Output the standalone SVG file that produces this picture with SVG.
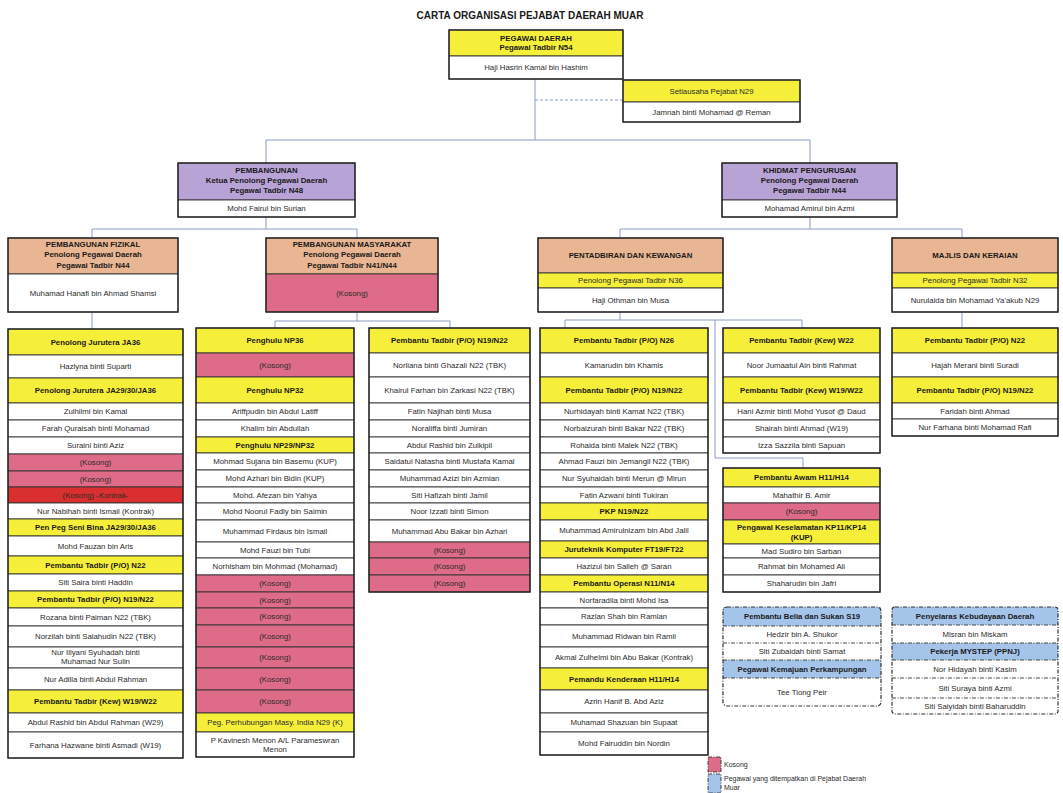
<svg xmlns="http://www.w3.org/2000/svg" width="1063" height="793" viewBox="0 0 1063 793">
<style>
.c{stroke:#333;stroke-width:0.9}
.o{fill:none;stroke:#222;stroke-width:1.3}
.y{fill:#f6ef3a}.w{fill:#fff}.k{fill:#de6b88}.r{fill:#d9302f}.p{fill:#b8a3d6}.e{fill:#e9b693}.bl{fill:#a5c4ea}
.d{stroke:#333;stroke-width:0.9;stroke-dasharray:4 1.5 1 1.5}
.od{fill:none;stroke:#333;stroke-width:1.2;stroke-dasharray:4 1.5 1 1.5}
.t{font-family:"Liberation Sans",Arial,Helvetica,sans-serif;font-size:7.8px;fill:#2b2b2b;text-anchor:middle}
.tb{font-weight:bold;fill:#1a1a1a}
.ti{font-family:"Liberation Sans",Arial,Helvetica,sans-serif;font-size:10px;font-weight:bold;fill:#1a1a1a;text-anchor:middle}
.lg{font-family:"Liberation Sans",Arial,Helvetica,sans-serif;font-size:7px;fill:#2b2b2b}
.cn{fill:none;stroke:#8a9cc4;stroke-width:1}
</style>
<rect width="1063" height="793" fill="#fff"/>
<text class="ti" x="530" y="19">CARTA ORGANISASI PEJABAT DAERAH MUAR</text>

<g id="connectors">
<path class="cn" d="M535,79 V140"/>
<path class="cn" d="M535,100 H623" stroke-dasharray="3 2"/>
<path class="cn" d="M266,163 V140 H810 V163"/>
<path class="cn" d="M266,217 V229"/>
<path class="cn" d="M92,238 V229 H357 V238"/>
<path class="cn" d="M810,217 V229"/>
<path class="cn" d="M620,238 V229 H962 V238"/>
<path class="cn" d="M92,312 V329"/>
<path class="cn" d="M357,312 V321"/>
<path class="cn" d="M275,328 V321 H450 V328"/>
<path class="cn" d="M620,312 V320"/>
<path class="cn" d="M565,328 V320 H802 V328"/>
<path class="cn" d="M715,320 V458 H803 V468"/>
<path class="cn" d="M962,312 V328"/>
</g>

<g id="pegawai-daerah">
<rect class="c y" x="449" y="30" width="174" height="26"/>
<rect class="c w" x="449" y="56" width="174" height="23"/>
<rect class="o" x="449" y="30" width="174" height="49"/>
<text class="t tb" x="536" y="40.5">PEGAWAI DAERAH</text>
<text class="t tb" x="536" y="50">Pegawai Tadbir N54</text>
<text class="t" x="536" y="70">Haji Hasrin Kamal bin Hashim</text>
</g>

<g id="setiausaha">
<rect class="c y" x="623" y="80" width="177" height="22"/>
<rect class="c w" x="623" y="102" width="177" height="20"/>
<rect class="o" x="623" y="80" width="177" height="42"/>
<text class="t" x="711.5" y="93.6">Setiausaha Pejabat N29</text>
<text class="t" x="711.5" y="114.6">Jamnah binti Mohamad @ Reman</text>
</g>

<g id="pembangunan">
<rect class="c p" x="178" y="163" width="177" height="37"/>
<rect class="c w" x="178" y="200" width="177" height="17"/>
<rect class="o" x="178" y="163" width="177" height="54"/>
<text class="t tb" x="266.5" y="172.5">PEMBANGUNAN</text>
<text class="t tb" x="266.5" y="182.5">Ketua Penolong Pegawai Daerah</text>
<text class="t tb" x="266.5" y="192.5">Pegawai Tadbir N48</text>
<text class="t" x="266.5" y="211">Mohd  Fairul bin Surian</text>
</g>

<g id="khidmat-pengurusan">
<rect class="c p" x="722" y="163" width="175" height="37"/>
<rect class="c w" x="722" y="200" width="175" height="17"/>
<rect class="o" x="722" y="163" width="175" height="54"/>
<text class="t tb" x="809.5" y="172.5">KHIDMAT PENGURUSAN</text>
<text class="t tb" x="809.5" y="182.5">Penolong Pegawai Daerah</text>
<text class="t tb" x="809.5" y="192.5">Pegawai Tadbir N44</text>
<text class="t" x="809.5" y="211">Mohamad Amirul bin Azmi</text>
</g>

<g id="pembangunan-fizikal">
<rect class="c e" x="8" y="238" width="170" height="36"/>
<rect class="c w" x="8" y="274" width="170" height="38"/>
<rect class="o" x="8" y="238" width="170" height="74"/>
<text class="t tb" x="93" y="246.5">PEMBANGUNAN FIZIKAL</text>
<text class="t tb" x="93" y="257">Penolong Pegawai Daerah</text>
<text class="t tb" x="93" y="268">Pegawai Tadbir N44</text>
<text class="t" x="93" y="295.6">Muhamad Hanafi bin Ahmad Shamsi</text>
</g>

<g id="pembangunan-masyarakat">
<rect class="c e" x="266" y="238" width="172" height="36"/>
<rect class="c k" x="266" y="274" width="172" height="38"/>
<rect class="o" x="266" y="238" width="172" height="74"/>
<text class="t tb" x="352" y="246.5">PEMBANGUNAN MASYARAKAT</text>
<text class="t tb" x="352" y="257">Penolong Pegawai Daerah</text>
<text class="t tb" x="352" y="268">Pegawai Tadbir N41/N44</text>
<text class="t" x="352" y="295.6">(Kosong)</text>
</g>

<g id="pentadbiran-kewangan">
<rect class="c e" x="538" y="238" width="185" height="35"/>
<rect class="c y" x="538" y="273" width="185" height="15"/>
<rect class="c w" x="538" y="288" width="185" height="24"/>
<rect class="o" x="538" y="238" width="185" height="74"/>
<text class="t tb" x="630.5" y="258">PENTADBIRAN DAN KEWANGAN</text>
<text class="t" x="630.5" y="283">Penolong Pegawai Tadbir N36</text>
<text class="t" x="630.5" y="302.6">Haji Othman bin Musa</text>
</g>

<g id="majlis-keraian">
<rect class="c e" x="892" y="238" width="166" height="35"/>
<rect class="c y" x="892" y="273" width="166" height="15"/>
<rect class="c w" x="892" y="288" width="166" height="24"/>
<rect class="o" x="892" y="238" width="166" height="74"/>
<text class="t tb" x="975" y="258">MAJLIS DAN KERAIAN</text>
<text class="t" x="975" y="283">Penolong Pegawai Tadbir N32</text>
<text class="t" x="975" y="302.6">Nurulaida bin Mohamad Ya'akub N29</text>
</g>

<g id="col-fizikal">
<rect class="c y" x="8" y="329" width="175" height="26"/>
<rect class="c w" x="8" y="355" width="175" height="23"/>
<rect class="c y" x="8" y="378" width="175" height="25"/>
<rect class="c w" x="8" y="403" width="175" height="17"/>
<rect class="c w" x="8" y="420" width="175" height="17"/>
<rect class="c w" x="8" y="437" width="175" height="17"/>
<rect class="c k" x="8" y="454" width="175" height="17"/>
<rect class="c k" x="8" y="471" width="175" height="16"/>
<rect class="c r" x="8" y="487" width="175" height="16"/>
<rect class="c w" x="8" y="503" width="175" height="16"/>
<rect class="c y" x="8" y="519" width="175" height="17"/>
<rect class="c w" x="8" y="536" width="175" height="20"/>
<rect class="c y" x="8" y="556" width="175" height="18"/>
<rect class="c w" x="8" y="574" width="175" height="17"/>
<rect class="c y" x="8" y="591" width="175" height="17"/>
<rect class="c w" x="8" y="608" width="175" height="18"/>
<rect class="c w" x="8" y="626" width="175" height="21"/>
<rect class="c w" x="8" y="647" width="175" height="21"/>
<rect class="c w" x="8" y="668" width="175" height="22"/>
<rect class="c y" x="8" y="690" width="175" height="23"/>
<rect class="c w" x="8" y="713" width="175" height="19"/>
<rect class="c w" x="8" y="732" width="175" height="26"/>
<rect class="o" x="8" y="329" width="175" height="429"/>
<text class="t tb" x="95.5" y="344.6">Penolong Jurutera JA36</text>
<text class="t" x="95.5" y="369.1">Hazlyna binti Suparti</text>
<text class="t tb" x="95.5" y="393.1">Penolong Jurutera JA29/30/JA36</text>
<text class="t" x="95.5" y="414.1">Zulhilmi bin Kamal</text>
<text class="t" x="95.5" y="431.1">Farah Quraisah binti Mohamad</text>
<text class="t" x="95.5" y="448.1">Suraini binti Aziz</text>
<text class="t" x="95.5" y="465.1">(Kosong)</text>
<text class="t" x="95.5" y="481.6">(Kosong)</text>
<text class="t" x="95.5" y="497.6">(Kosong) -Kontrak-</text>
<text class="t" x="95.5" y="513.6">Nur Nabihah binti Ismail (Kontrak)</text>
<text class="t tb" x="95.5" y="530.1">Pen Peg Seni Bina JA29/30/JA36</text>
<text class="t" x="95.5" y="548.6">Mohd Fauzan  bin Aris</text>
<text class="t tb" x="95.5" y="567.6">Pembantu Tadbir (P/O) N22</text>
<text class="t" x="95.5" y="585.1">Siti Saira binti Haddin</text>
<text class="t tb" x="95.5" y="602.1">Pembantu  Tadbir (P/O) N19/N22</text>
<text class="t" x="95.5" y="619.6">Rozana binti Paiman N22 (TBK)</text>
<text class="t" x="95.5" y="639.1">Norzilah binti Salahudin N22 (TBK)</text>
<text class="t" x="95.5" y="654.6">Nur Illyani Syuhadah binti</text>
<text class="t" x="95.5" y="663.6">Muhamad  Nur Sulin</text>
<text class="t" x="95.5" y="681.6">Nur Adilla binti Abdul Rahman</text>
<text class="t tb" x="95.5" y="704.1">Pembantu Tadbir (Kew) W19/W22</text>
<text class="t" x="95.5" y="725.1">Abdul Rashid bin Abdul Rahman (W29)</text>
<text class="t" x="95.5" y="747.6">Farhana Hazwane binti Asmadi (W19)</text>
</g>

<g id="col-penghulu">
<rect class="c y" x="196" y="328" width="158" height="25"/>
<rect class="c k" x="196" y="353" width="158" height="24"/>
<rect class="c y" x="196" y="377" width="158" height="26"/>
<rect class="c w" x="196" y="403" width="158" height="17"/>
<rect class="c w" x="196" y="420" width="158" height="17"/>
<rect class="c y" x="196" y="437" width="158" height="16"/>
<rect class="c w" x="196" y="453" width="158" height="17"/>
<rect class="c w" x="196" y="470" width="158" height="17"/>
<rect class="c w" x="196" y="487" width="158" height="16"/>
<rect class="c w" x="196" y="503" width="158" height="17"/>
<rect class="c w" x="196" y="520" width="158" height="22"/>
<rect class="c w" x="196" y="542" width="158" height="16"/>
<rect class="c w" x="196" y="558" width="158" height="17"/>
<rect class="c k" x="196" y="575" width="158" height="17"/>
<rect class="c k" x="196" y="592" width="158" height="16"/>
<rect class="c k" x="196" y="608" width="158" height="17"/>
<rect class="c k" x="196" y="625" width="158" height="22"/>
<rect class="c k" x="196" y="647" width="158" height="21"/>
<rect class="c k" x="196" y="668" width="158" height="22"/>
<rect class="c k" x="196" y="690" width="158" height="23"/>
<rect class="c y" x="196" y="713" width="158" height="19"/>
<rect class="c w" x="196" y="732" width="158" height="25"/>
<rect class="o" x="196" y="328" width="158" height="429"/>
<text class="t tb" x="275" y="343.1">Penghulu NP36</text>
<text class="t" x="275" y="367.6">(Kosong)</text>
<text class="t tb" x="275" y="392.6">Penghulu NP32</text>
<text class="t" x="275" y="414.1">Ariffpudin bin Abdul Latiff</text>
<text class="t" x="275" y="431.1">Khalim bin Abdullah</text>
<text class="t tb" x="275" y="447.6">Penghulu NP29/NP32</text>
<text class="t" x="275" y="464.1">Mohmad Sujana bin Basemu (KUP)</text>
<text class="t" x="275" y="481.1">Mohd Azhari bin Bidin (KUP)</text>
<text class="t" x="275" y="497.6">Mohd. Afezan bin  Yahya</text>
<text class="t" x="275" y="514.1">Mohd Noorul Fadly bin  Saimin</text>
<text class="t" x="275" y="533.6">Muhammad Firdaus bin Ismail</text>
<text class="t" x="275" y="552.6">Mohd Fauzi bin Tubi</text>
<text class="t" x="275" y="569.1">Norhisham bin Mohmad (Mohamad)</text>
<text class="t" x="275" y="586.1">(Kosong)</text>
<text class="t" x="275" y="602.6">(Kosong)</text>
<text class="t" x="275" y="619.1">(Kosong)</text>
<text class="t" x="275" y="638.6">(Kosong)</text>
<text class="t" x="275" y="660.1">(Kosong)</text>
<text class="t" x="275" y="681.6">(Kosong)</text>
<text class="t" x="275" y="704.1">(Kosong)</text>
<text class="t" x="275" y="725.1">Peg. Perhubungan Masy. India N29 (K)</text>
<text class="t" x="275" y="742.6">P Kavinesh Menon A/L Parameswran</text>
<text class="t" x="275" y="751.6">Menon</text>
</g>

<g id="col-masyarakat-po">
<rect class="c y" x="369" y="328" width="161" height="25"/>
<rect class="c w" x="369" y="353" width="161" height="24"/>
<rect class="c w" x="369" y="377" width="161" height="26"/>
<rect class="c w" x="369" y="403" width="161" height="17"/>
<rect class="c w" x="369" y="420" width="161" height="17"/>
<rect class="c w" x="369" y="437" width="161" height="16"/>
<rect class="c w" x="369" y="453" width="161" height="17"/>
<rect class="c w" x="369" y="470" width="161" height="17"/>
<rect class="c w" x="369" y="487" width="161" height="16"/>
<rect class="c w" x="369" y="503" width="161" height="17"/>
<rect class="c w" x="369" y="520" width="161" height="22"/>
<rect class="c k" x="369" y="542" width="161" height="16"/>
<rect class="c k" x="369" y="558" width="161" height="17"/>
<rect class="c k" x="369" y="575" width="161" height="17"/>
<rect class="o" x="369" y="328" width="161" height="264"/>
<text class="t tb" x="449.5" y="343.1">Pembantu Tadbir (P/O) N19/N22</text>
<text class="t" x="449.5" y="367.6">Norliana binti Ghazali N22 (TBK)</text>
<text class="t" x="449.5" y="392.6">Khairul Farhan bin Zarkasi N22 (TBK)</text>
<text class="t" x="449.5" y="414.1">Fatin Najihah binti Musa</text>
<text class="t" x="449.5" y="431.1">Noraliffa binti Jumiran</text>
<text class="t" x="449.5" y="447.6">Abdul Rashid bin Zulkipli</text>
<text class="t" x="449.5" y="464.1">Saidatul Natasha binti Mustafa Kamal</text>
<text class="t" x="449.5" y="481.1">Muhammad Azizi bin Azmian</text>
<text class="t" x="449.5" y="497.6">Siti Hafizah binti Jamil</text>
<text class="t" x="449.5" y="514.1">Noor Izzati binti Simon</text>
<text class="t" x="449.5" y="533.6">Muhammad Abu Bakar bin  Azhari</text>
<text class="t" x="449.5" y="552.6">(Kosong)</text>
<text class="t" x="449.5" y="569.1">(Kosong)</text>
<text class="t" x="449.5" y="586.1">(Kosong)</text>
</g>

<g id="col-pentadbiran-po">
<rect class="c y" x="540" y="328" width="168" height="25"/>
<rect class="c w" x="540" y="353" width="168" height="24"/>
<rect class="c y" x="540" y="377" width="168" height="26"/>
<rect class="c w" x="540" y="403" width="168" height="17"/>
<rect class="c w" x="540" y="420" width="168" height="17"/>
<rect class="c w" x="540" y="437" width="168" height="16"/>
<rect class="c w" x="540" y="453" width="168" height="17"/>
<rect class="c w" x="540" y="470" width="168" height="17"/>
<rect class="c w" x="540" y="487" width="168" height="16"/>
<rect class="c y" x="540" y="503" width="168" height="17"/>
<rect class="c w" x="540" y="520" width="168" height="21"/>
<rect class="c y" x="540" y="541" width="168" height="17"/>
<rect class="c w" x="540" y="558" width="168" height="17"/>
<rect class="c y" x="540" y="575" width="168" height="17"/>
<rect class="c w" x="540" y="592" width="168" height="16"/>
<rect class="c w" x="540" y="608" width="168" height="17"/>
<rect class="c w" x="540" y="625" width="168" height="22"/>
<rect class="c w" x="540" y="647" width="168" height="21"/>
<rect class="c y" x="540" y="668" width="168" height="22"/>
<rect class="c w" x="540" y="690" width="168" height="23"/>
<rect class="c w" x="540" y="713" width="168" height="19"/>
<rect class="c w" x="540" y="732" width="168" height="23"/>
<rect class="o" x="540" y="328" width="168" height="427"/>
<text class="t tb" x="624" y="343.1">Pembantu Tadbir (P/O) N26</text>
<text class="t" x="624" y="367.6">Kamarudin bin Khamis</text>
<text class="t tb" x="624" y="392.6">Pembantu Tadbir (P/O) N19/N22</text>
<text class="t" x="624" y="414.1">Nurhidayah binti Kamat N22 (TBK)</text>
<text class="t" x="624" y="431.1">Norbaizurah binti Bakar N22 (TBK)</text>
<text class="t" x="624" y="447.6">Rohaida binti Malek N22 (TBK)</text>
<text class="t" x="624" y="464.1">Ahmad Fauzi bin Jemangil N22 (TBK)</text>
<text class="t" x="624" y="481.1">Nur Syuhaidah binti Merun @ Mirun</text>
<text class="t" x="624" y="497.6">Fatin Azwani binti Tukiran</text>
<text class="t tb" x="624" y="514.1">PKP N19/N22</text>
<text class="t" x="624" y="533.1">Muhammad Amirulnizam bin Abd Jalil</text>
<text class="t tb" x="624" y="552.1">Juruteknik Komputer FT19/FT22</text>
<text class="t" x="624" y="569.1">Hazizul bin Salleh @ Saran</text>
<text class="t tb" x="624" y="586.1">Pembantu Operasi N11/N14</text>
<text class="t" x="624" y="602.6">Norfaradila binti Mohd Isa</text>
<text class="t" x="624" y="619.1">Razlan Shah bin  Ramlan</text>
<text class="t" x="624" y="638.6">Muhammad Ridwan bin Ramli</text>
<text class="t" x="624" y="660.1">Akmal Zulhelmi bin Abu Bakar (Kontrak)</text>
<text class="t tb" x="624" y="681.6">Pemandu Kenderaan H11/H14</text>
<text class="t" x="624" y="704.1">Azrin Hanif B. Abd Aziz</text>
<text class="t" x="624" y="725.1">Muhamad Shazuan bin Supaat</text>
<text class="t" x="624" y="746.1">Mohd Fairuddin bin Nordin</text>
</g>

<g id="col-pentadbiran-kew">
<rect class="c y" x="723" y="328" width="157" height="25"/>
<rect class="c w" x="723" y="353" width="157" height="24"/>
<rect class="c y" x="723" y="377" width="157" height="26"/>
<rect class="c w" x="723" y="403" width="157" height="17"/>
<rect class="c w" x="723" y="420" width="157" height="17"/>
<rect class="c w" x="723" y="437" width="157" height="16"/>
<rect class="o" x="723" y="328" width="157" height="125"/>
<text class="t tb" x="801.5" y="343.1">Pembantu Tadbir (Kew) W22</text>
<text class="t" x="801.5" y="367.6">Noor Jumaatul Ain binti Rahmat</text>
<text class="t tb" x="801.5" y="392.6">Pembantu Tadbir (Kew) W19/W22</text>
<text class="t" x="801.5" y="414.1">Hani Azmir binti Mohd Yusof @ Daud</text>
<text class="t" x="801.5" y="431.1">Shairah binti Ahmad (W19)</text>
<text class="t" x="801.5" y="447.6">Izza Sazzila binti Sapuan</text>
</g>

<g id="col-pembantu-awam">
<rect class="c y" x="723" y="468" width="157" height="19"/>
<rect class="c w" x="723" y="487" width="157" height="16"/>
<rect class="c k" x="723" y="503" width="157" height="17"/>
<rect class="c y" x="723" y="520" width="157" height="24"/>
<rect class="c w" x="723" y="544" width="157" height="14"/>
<rect class="c w" x="723" y="558" width="157" height="17"/>
<rect class="c w" x="723" y="575" width="157" height="17"/>
<rect class="o" x="723" y="468" width="157" height="124"/>
<text class="t tb" x="801.5" y="480.1">Pembantu Awam H11/H14</text>
<text class="t" x="801.5" y="497.6">Mahathir B. Amir</text>
<text class="t" x="801.5" y="514.1">(Kosong)</text>
<text class="t tb" x="801.5" y="529.6">Pengawal Keselamatan KP11/KP14</text>
<text class="t tb" x="801.5" y="539.6">(KUP)</text>
<text class="t" x="801.5" y="553.6">Mad Sudiro bin Sarban</text>
<text class="t" x="801.5" y="569.1">Rahmat bin Mohamed Ali</text>
<text class="t" x="801.5" y="586.1">Shaharudin bin Jafri</text>
</g>

<g id="col-majlis">
<rect class="c y" x="892" y="328" width="166" height="25"/>
<rect class="c w" x="892" y="353" width="166" height="24"/>
<rect class="c y" x="892" y="377" width="166" height="26"/>
<rect class="c w" x="892" y="403" width="166" height="16"/>
<rect class="c w" x="892" y="419" width="166" height="17"/>
<rect class="o" x="892" y="328" width="166" height="108"/>
<text class="t tb" x="975" y="343.1">Pembantu Tadbir (P/O) N22</text>
<text class="t" x="975" y="367.6">Hajah Merani binti Suradi</text>
<text class="t tb" x="975" y="392.6">Pembantu  Tadbir (P/O) N19/N22</text>
<text class="t" x="975" y="413.6">Faridah binti Ahmad</text>
<text class="t" x="975" y="430.1">Nur Farhana binti Mohamad Rafi</text>
</g>

<g id="ditempatkan-belia">
<rect class="bl" x="723" y="607" width="158" height="19"/>
<rect class="bl" x="723" y="660" width="158" height="18"/>
<path class="d" fill="none" d="M723,626 H881 M723,643 H881 M723,660 H881 M723,678 H881"/>
<rect class="od" x="723" y="607" width="158" height="99" rx="4"/>
<text class="t tb" x="802" y="619.1">Pembantu Belia dan Sukan S19</text>
<text class="t" x="802" y="637.1">Hedzir bin A. Shukor</text>
<text class="t" x="802" y="654.1">Siti Zubaidah binti Samat</text>
<text class="t tb" x="802" y="671.6">Pegawai Kemajuan Perkampungan</text>
<text class="t" x="802" y="694.6">Tee  Tiong Peir</text>
</g>

<g id="ditempatkan-kebudayaan">
<rect class="bl" x="892" y="607" width="166" height="18"/>
<rect class="bl" x="892" y="643" width="166" height="17"/>
<path class="d" fill="none" d="M892,625 H1058 M892,643 H1058 M892,660 H1058 M892,678 H1058 M892,698 H1058"/>
<rect class="od" x="892" y="607" width="166" height="107" rx="3"/>
<text class="t tb" x="975" y="618.6">Penyelaras Kebudayaan Daerah</text>
<text class="t" x="975" y="636.6">Misran bin  Miskam</text>
<text class="t tb" x="975" y="654.1">Pekerja MYSTEP (PPNJ)</text>
<text class="t" x="975" y="671.6">Nor Hidayah binti Kasim</text>
<text class="t" x="975" y="690.6">Siti Suraya binti Azmi</text>
<text class="t" x="975" y="708.6">Siti Saiyidah binti Baharuddin</text>
</g>

<g id="legend">
<rect class="k d" x="708" y="757" width="13" height="15"/>
<rect class="bl d" x="708" y="774" width="13" height="19"/>
<text class="lg" x="724" y="767">Kosong</text>
<text class="lg" x="724" y="781">Pegawai  yang ditempatkan di Pejabat Daerah</text>
<text class="lg" x="724" y="790">Muar</text>
</g>
</svg>
